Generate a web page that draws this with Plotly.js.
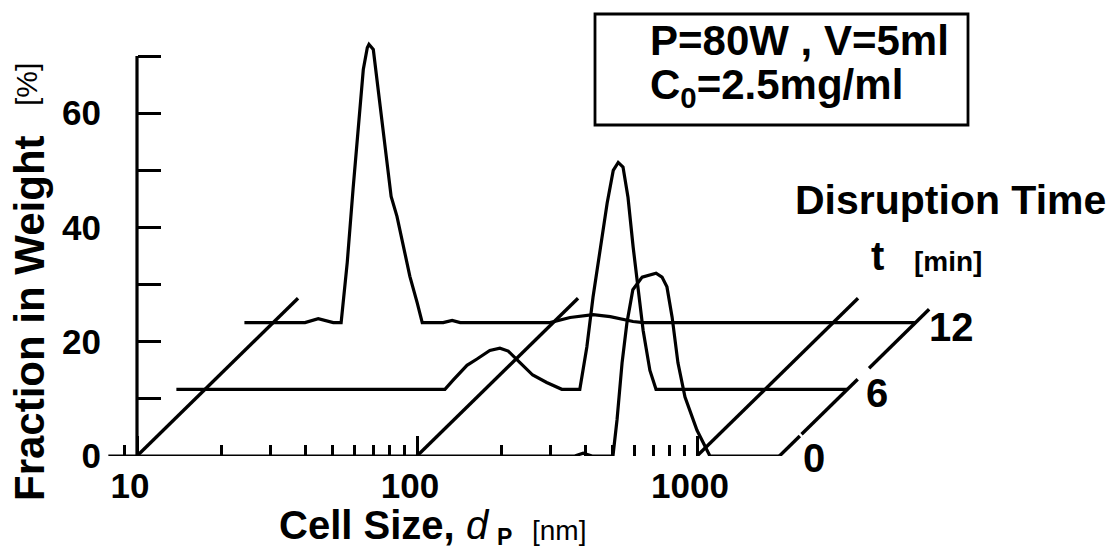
<!DOCTYPE html>
<html><head><meta charset="utf-8">
<script src="https://cdn.plot.ly/plotly-3.0.1.min.js"></script>
<style>html,body{margin:0;padding:0;background:#fff}#chart{width:1119px;height:552px}</style>
</head><body><div id="chart"></div>
<script>
// ---- data ----
const times = [0, 6, 12];                    // disruption time [min]
const sizeMin = 7.9, sizeMax = 1970;        // size range of each baseline [nm]

const size_t0 = [7.9, 366, 392, 422, 501, 518, 540, 562, 590, 637, 714, 750, 781, 815, 855, 906, 1000, 1112, 1970];
const frac_t0 = [0, 0, 0.5, 0, 0, 6.3, 16.3, 23.3, 29.1, 31.3, 32.0, 31.3, 29.6, 24.3, 16.3, 10.3, 4.5, 0, 0];

const size_t6 = [7.9, 71.9, 76.9, 86.2, 93.6, 104, 113, 121, 133, 148, 166, 188, 218, 231, 243, 258, 273, 287, 299, 311, 324, 338, 352, 367, 388, 408, 1970];
const frac_t6 = [0, 0, 1.6, 4.2, 5.3, 6.8, 7.2, 6.7, 4.7, 2.5, 1.2, 0, 0, 7.4, 16.1, 24.9, 32.6, 38.3, 39.7, 38.9, 33.6, 24.9, 17.9, 10.3, 3.3, 0, 0];

const size_t12 = [7.9, 13.0, 14.5, 16.4, 17.5, 18.4, 19.3, 20.1, 21.0, 21.7, 22.0, 22.8, 23.5, 24.5, 25.5, 26.4, 27.7, 29.1, 30.8, 32.7, 34.1, 40.5, 43.6, 46.6, 97.5, 115, 139, 160, 193, 210, 1970];
const frac_t12 = [0, 0, 0.7, 0, 0, 10.5, 23.3, 33.8, 44.3, 48.1, 48.7, 47.8, 42.5, 35.0, 28.0, 22.1, 18.6, 14.0, 8.1, 3.5, 0, 0, 0.4, 0, 0, 0.9, 1.4, 1.05, 0.2, 0, 0];

const xTickVals = [10, 100, 1000];
const xTickText = ['10', '100', '1000'];
const xMinorVals = [9, 20, 30, 40, 50, 60, 70, 80, 90, 200, 300, 400, 500, 600, 700, 800, 900];
const yTickVals = [0, 10, 20, 30, 40, 50, 60, 70];
const yTickText = ['0', '', '20', '', '40', '', '60', ''];
const depthGridSizes = [10, 100, 1000];      // oblique guide lines
const depthGridEnd = 14.2;                   // [min]
const edgeSegments = [[0, 1.8], [1.95, 6.9], [7.9, 13.2]]; // right oblique edge (t ranges)

// ---- oblique projection (pseudo-3D) ----
const depthLog = 0.0405;   // decades per minute
const depthY = 1.945;      // % units per minute
function projX(d, t) { return d * Math.pow(10, depthLog * t); }
function projY(f, t) { return f + depthY * t; }

const FONT = 'Liberation Sans, Arial, Helvetica, sans-serif';
const line = { color: '#000', width: 3.4 };
const traces = [];
const series = [[size_t0, frac_t0], [size_t6, frac_t6], [size_t12, frac_t12]];
series.forEach((s, i) => {
  const t = times[i];
  traces.push({ x: s[0].map(d => projX(d, t)), y: s[1].map(f => projY(f, t)), mode: 'lines',
    line: { color: '#000', width: 3.2 }, hoverinfo: 'skip' });
});
depthGridSizes.forEach(d => {
  traces.push({ x: [projX(d, 0), projX(d, depthGridEnd)], y: [projY(0, 0), projY(0, depthGridEnd)], mode: 'lines', line: line });
});
edgeSegments.forEach(seg => {
  traces.push({ x: seg.map(t => projX(sizeMax, t)), y: seg.map(t => projY(0, t)), mode: 'lines', line: line });
});
// y axis line (0..70 at d = 10)
traces.push({ x: [10, 10], y: [0, 70], mode: 'lines', line: { color: '#000', width: 3.2 } });

// layout geometry in px
const L = 108, T = 40, W = 837, H = 416;
const px = p => (p - L) / W;
const py = p => (T + H - p) / H;

function ann(text, x, y, size, opts) {
  return Object.assign({ text: text, x: px(x), y: py(y), xref: 'paper', yref: 'paper', showarrow: false,
    xanchor: 'center', yanchor: 'middle', font: { family: FONT, size: size, color: '#000', weight: 'bold' } }, opts || {});
}

const annotations = [
  ann('P=80W , V=5ml', 648, 40, 42, { xanchor: 'left' }),
  ann('C<sub>0</sub>=2.5mg/ml', 648, 87, 42, { xanchor: 'left' }),
  ann('Disruption Time', 950, 200, 41),
  ann('t', 877, 256, 40),
  ann('[min]', 948, 261, 28),
  ann('12', 952, 327, 40),
  ann('6', 877, 393, 40),
  ann('0', 814, 458, 40),
  ann('Fraction in Weight', 29, 318, 42, { textangle: -90 }),
  ann('[%]', 27, 85, 30, { textangle: -90, font: { family: FONT, size: 30, color: '#000', weight: 'normal' } }),
  ann('Cell Size,', 277, 525, 40, { xanchor: 'left' }),
  ann('d', 464, 525, 40, { xanchor: 'left', font: { family: FONT, size: 40, color: '#000', style: 'italic', weight: 'normal' } }),
  ann('P', 495, 537, 23, { xanchor: 'left' }),
  ann('[nm]', 530, 530, 28, { xanchor: 'left', font: { family: FONT, size: 28, color: '#000', weight: 'normal' } })
];

const layout = {
  width: 1119, height: 552,
  margin: { l: L, r: 1119 - L - W, t: T, b: 552 - T - H, pad: 0 },
  paper_bgcolor: '#fff', plot_bgcolor: 'rgba(0,0,0,0)',
  showlegend: false,
  xaxis: {
    type: 'log', range: [1 + (108 - 137) / 280, 1 + (945 - 137) / 280],
    showline: false, showgrid: false, zeroline: false,
    tickmode: 'array', tickvals: xTickVals, ticktext: xTickText,
    ticks: 'inside', ticklen: 20, tickwidth: 3, tickcolor: '#000',
    tickfont: { family: FONT, size: 35, color: '#000', weight: 'bold' },
    ticklabelstandoff: 6, ticklabelshift: -7,
    minor: { tickmode: 'array', tickvals: xMinorVals, ticks: 'inside', ticklen: 11, tickwidth: 2.8, tickcolor: '#000', showgrid: false }
  },
  yaxis: {
    range: [0, H / (400 / 70)], anchor: 'free', position: (137 - L) / W,
    showline: false, showgrid: false, zeroline: false,
    tickmode: 'array', tickvals: yTickVals, ticktext: yTickText,
    ticks: 'inside', ticklen: 23, tickwidth: 3, tickcolor: '#000',
    tickfont: { family: FONT, size: 35, color: '#000', weight: 'bold' },
    ticklabelstandoff: 36
  },
  shapes: [
    { type: 'rect', xref: 'paper', yref: 'paper', x0: px(595), x1: px(968), y0: py(125), y1: py(14), line: { color: '#000', width: 2.8 } }
  ],
  annotations: annotations
};

Plotly.newPlot('chart', traces, layout, { staticPlot: true, displayModeBar: false });
</script>
</body></html>
